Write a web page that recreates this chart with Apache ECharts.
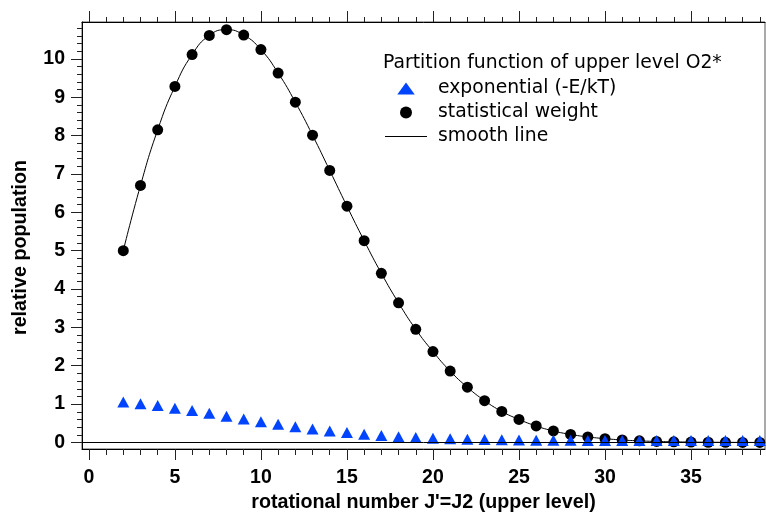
<!DOCTYPE html>
<html><head><meta charset="utf-8">
<script src="https://cdn.jsdelivr.net/npm/echarts@6/dist/echarts.min.js"></script>
<style>html,body{margin:0;padding:0;background:#fff}#c{width:766px;height:513px}</style>
</head><body><div id="c"></div>
<script>
const J = [2,3,4,5,6,7,8,9,10,11,12,13,14,15,16,17,18,19,20,21,22,23,24,25,26,27,28,29,30,31,32,33,34,35,36,37,38,39];
const statWeight = [5.0,6.70,8.15,9.28,10.11,10.61,10.76,10.62,10.24,9.63,8.87,8.01,7.09,6.16,5.26,4.41,3.64,2.95,2.37,1.86,1.44,1.09,0.81,0.60,0.43,0.30,0.21,0.145,0.10,0.065,0.042,0.027,0.017,0.010,0.006,0.004,0.002,0.001];
const expo = [1.0,0.96,0.91,0.84,0.78,0.71,0.63,0.56,0.49,0.42,0.36,0.30,0.25,0.21,0.16,0.13,0.10,0.08,0.06,0.045,0.033,0.024,0.017,0.012,0.008,0.006,0.004,0.0025,0.0016,0.001,0.0007,0.0004,0.0003,0.0002,0.0001,0.0001,0,0];
const xTicks = [0,5,10,15,20,25,30,35];
const yTicks = [0,1,2,3,4,5,6,7,8,9,10];
const legendTitle = 'Partition function of upper level O2*';
const seriesNames = ['exponential (-E/kT)', 'statistical weight', 'smooth line'];
const xName = "rotational number J'=J2 (upper level)";
const yName = 'relative population';

const chart = echarts.init(document.getElementById('c'), null, {renderer: 'canvas'});
const boldFont = {fontFamily: 'Liberation Sans', fontWeight: 'bold', color: '#000'};
const tickStyle = {color: '#222', width: 1};
const option = {
  animation: false,
  backgroundColor: '#fff',
  grid: {left: 82, top: 22, width: 683, height: 427, show: true, borderColor: '#555', borderWidth: 1,
    backgroundColor: 'transparent', containLabel: false, outerBoundsMode: 'none'},
  title: {text: legendTitle, left: 383, top: 54, padding: 0,
    textStyle: {fontFamily: 'DejaVu Sans', fontSize: 18.8, fontWeight: 'normal', color: '#000'}},
  legend: {
    orient: 'vertical', left: 385, top: 79, padding: 0, itemGap: 5,
    itemWidth: 42, itemHeight: 12,
    textStyle: {fontFamily: 'DejaVu Sans', fontSize: 18.8, color: '#000', padding: [0, 0, 0, 6]},
    data: [
      {name: seriesNames[0], icon: 'path://M0,11L8,0L16,11Z'},
      {name: seriesNames[1], icon: 'circle'},
      {name: seriesNames[2], icon: 'path://M0,0H42V1H0Z'}
    ]
  },
  xAxis: [{
    type: 'value', position: 'bottom', min: -0.4, max: 39.3, splitNumber: 8,
    axisLine: {show: true, onZero: false, lineStyle: {color: '#000', width: 1}},
    axisTick: {show: true, inside: false, length: 11, lineStyle: tickStyle, customValues: xTicks},
    minorTick: {show: true, splitNumber: 5, length: 6, lineStyle: tickStyle},
    axisLabel: {show: true, margin: 19, fontSize: 19.5, ...boldFont, customValues: xTicks},
    splitLine: {show: false},
    name: xName, nameLocation: 'middle', nameGap: 43,
    nameTextStyle: {fontSize: 19.7, ...boldFont}
  }, {
    type: 'value', position: 'top', min: -0.4, max: 39.3, splitNumber: 8,
    axisLine: {show: true, onZero: false, lineStyle: {color: '#000', width: 1}},
    axisTick: {show: true, inside: false, length: 11, lineStyle: tickStyle, customValues: xTicks},
    minorTick: {show: true, splitNumber: 5, length: 5, lineStyle: tickStyle},
    axisLabel: {show: false},
    splitLine: {show: false}
  }],
  yAxis: [{
    type: 'value', position: 'left', min: -0.17, max: 10.96, splitNumber: 11,
    axisLine: {show: true, onZero: false, lineStyle: {color: '#000', width: 1}},
    axisTick: {show: true, inside: false, length: 11, lineStyle: tickStyle, customValues: yTicks},
    minorTick: {show: true, splitNumber: 5, length: 5, lineStyle: tickStyle},
    axisLabel: {show: true, margin: 17, fontSize: 19.5, ...boldFont, customValues: yTicks},
    splitLine: {show: false},
    name: yName, nameLocation: 'middle', nameGap: 51,
    nameTextStyle: {fontSize: 19.7, ...boldFont, padding: [0, 24, 0, 0]}
  }],
  series: [{
    name: seriesNames[2], type: 'line', smooth: true, symbol: 'none', showSymbol: false, z: 2,
    data: J.map((j, i) => [j, statWeight[i]]),
    lineStyle: {color: '#000', width: 1}, itemStyle: {color: '#000'},
    markLine: {silent: true, symbol: 'none', label: {show: false},
      lineStyle: {color: '#000', width: 1, type: 'solid'}, data: [{yAxis: 0}]}
  }, {
    name: seriesNames[1], type: 'scatter', symbol: 'circle', symbolSize: 11, z: 3,
    data: J.map((j, i) => [j, statWeight[i]]),
    itemStyle: {color: '#000', opacity: 1}
  }, {
    name: seriesNames[0], type: 'scatter', symbol: 'triangle', symbolSize: [12, 11], symbolOffset: [0, -2], z: 4,
    data: J.map((j, i) => [j, expo[i]]),
    itemStyle: {color: '#0044ff', opacity: 1}
  }]
};
chart.setOption(option);
</script>
</body></html>
